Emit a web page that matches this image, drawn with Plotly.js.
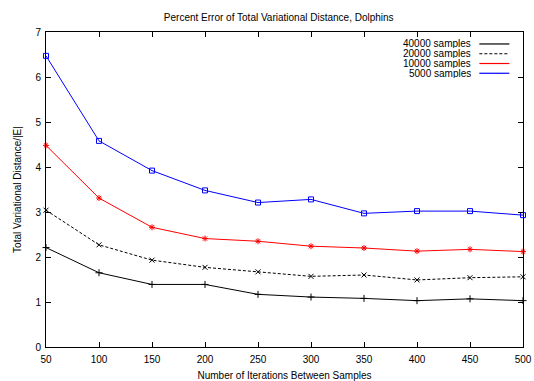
<!DOCTYPE html>
<html>
<head>
<meta charset="utf-8">
<script src="https://cdn.plot.ly/plotly-3.0.1.min.js"></script>
<style>html,body{margin:0;padding:0;background:#fff;}#chart{width:534px;height:381px;}</style>
</head>
<body>
<div id="chart"></div>
<script>
// Data
const iterations = [50, 100, 150, 200, 250, 300, 350, 400, 450, 500];
const seriesNames = ["40000 samples", "20000 samples", "10000 samples", "5000 samples"];
const samples40000 = [2.21, 1.65, 1.39, 1.39, 1.17, 1.11, 1.08, 1.03, 1.07, 1.03];
const samples20000 = [3.04, 2.27, 1.93, 1.77, 1.67, 1.57, 1.60, 1.49, 1.54, 1.56];
const samples10000 = [4.48, 3.31, 2.66, 2.41, 2.35, 2.24, 2.20, 2.13, 2.17, 2.12];
const samples5000  = [6.47, 4.58, 3.92, 3.48, 3.21, 3.28, 2.97, 3.02, 3.02, 2.93];
const xTicks = [50, 100, 150, 200, 250, 300, 350, 400, 450, 500];
const yTicks = [0, 1, 2, 3, 4, 5, 6, 7];

const values = [samples40000, samples20000, samples10000, samples5000];
const styles = [
  {color: "#000000", dash: "solid", symbol: "cross-thin-open", size: 5},
  {color: "#000000", dash: "3px,2px", symbol: "x-thin-open", size: 5},
  {color: "#ff0000", dash: "solid", symbol: "asterisk-open", size: 5},
  {color: "#0000ff", dash: "solid", symbol: "square-open", size: 5}
];

const font = {family: "Liberation Sans, Arial, sans-serif", size: 10, color: "#000"};

const traces = values.map((v, i) => ({
  x: iterations,
  y: v,
  name: seriesNames[i],
  type: "scatter",
  mode: "lines+markers",
  line: {color: styles[i].color, width: 1, dash: styles[i].dash},
  marker: {symbol: styles[i].symbol, size: styles[i].size, color: styles[i].color,
           line: {color: styles[i].color, width: 1}},
  showlegend: false,
  cliponaxis: false
}));

// Custom gnuplot-style key: right-aligned text, line sample to the right
const keyTop = 0.962, keyStep = 0.031;
const annotations = seriesNames.map((n, i) => ({
  xref: "paper", yref: "paper", x: 0.8925, y: keyTop - i * keyStep,
  xanchor: "right", yanchor: "middle", text: n, showarrow: false, font: font,
  borderpad: 0, height: 9, valign: "middle"
}));
const shapes = seriesNames.map((n, i) => ({
  type: "line", xref: "paper", yref: "paper",
  x0: 0.9085, x1: 0.9714, y0: keyTop - i * keyStep, y1: keyTop - i * keyStep,
  line: {color: styles[i].color, width: 1.2, dash: styles[i].dash}
}));

const axisCommon = {
  showgrid: false, zeroline: false, showline: true, linecolor: "#000", linewidth: 1,
  mirror: "ticks", ticks: "inside", ticklen: 5, tickcolor: "#000", tickwidth: 1,
  tickfont: font
};

const layout = {
  width: 534, height: 381,
  margin: {l: 46, r: 11, t: 32, b: 34},
  paper_bgcolor: "#fff", plot_bgcolor: "#fff",
  font: font,
  title: {text: "Percent Error of Total Variational Distance, Dolphins", font: font,
          x: 0.522, xanchor: "center", y: 0.955, yanchor: "middle"},
  xaxis: Object.assign({}, axisCommon, {
    range: [50, 500], tickvals: xTicks, ticktext: xTicks.map(String),
    ticklabelstandoff: 3, automargin: false,
    title: {text: "Number of Iterations Between Samples", font: font}
  }),
  yaxis: Object.assign({}, axisCommon, {
    range: [0, 7], tickvals: yTicks, ticktext: yTicks.map(String),
    ticklabelstandoff: 2, automargin: true,
    title: {text: "Total Variational Distance/|E|", font: font, standoff: 11}
  }),
  annotations: annotations,
  shapes: shapes,
  showlegend: false
};

Plotly.newPlot("chart", traces, layout, {displayModeBar: false, staticPlot: true});
</script>
</body>
</html>
